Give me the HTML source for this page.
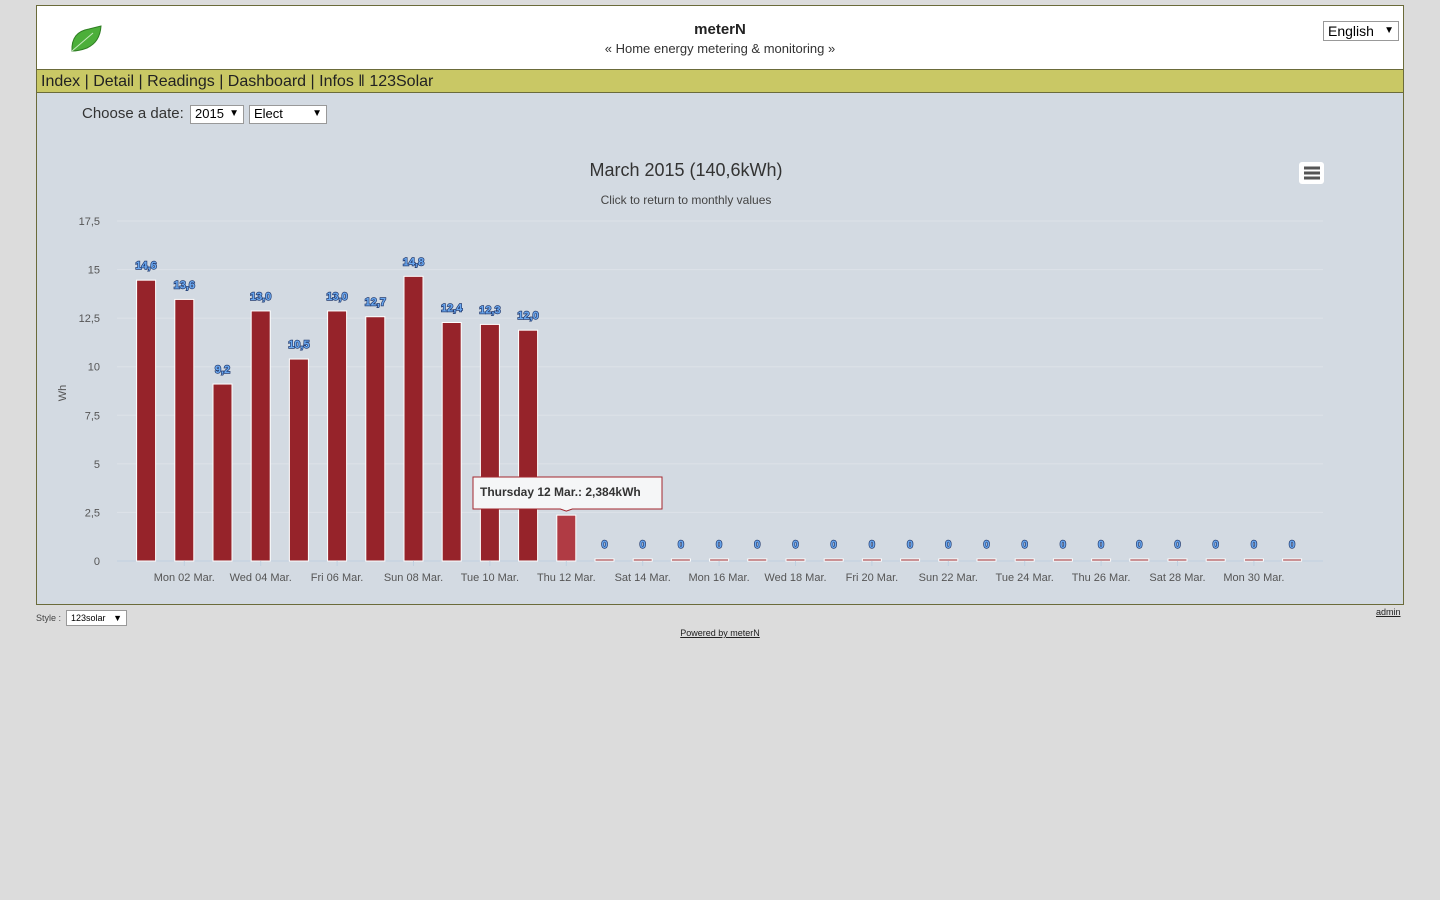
<!DOCTYPE html>
<html><head><meta charset="utf-8">
<style>
body{margin:0;width:1440px;height:900px;background:#dcdcdc;font-family:"Liberation Sans",sans-serif;position:relative;overflow:hidden}
.abs{position:absolute}
#wrap{left:36px;top:5px;width:1366px;height:598px;border:1px solid #6b6b3a;background:#d3dae2}
#header{left:0;top:0;width:1366px;height:63px;background:#fff;border-bottom:1px solid #6b6b3a}
#nav{left:0;top:64px;width:1366px;height:22px;background:#c9c865;border-bottom:1px solid #6b6b3a;font-size:16px;line-height:24px;color:#222}
.sel{background:#fff;border:1px solid #999;font-size:13px;line-height:16px;padding:0 4px;box-sizing:border-box}
</style></head><body>
<div id="wrap" class="abs">
 <div id="header" class="abs">
  <svg class="abs" style="left:32px;top:18px" width="34" height="30"><path d="M3 27 Q2 8 20 5 L32 2 Q31 18 18 24 Q10 27 3 27Z" fill="#4caf3a" stroke="#2e7d22"/><path d="M3 27 L24 9" stroke="#c8eac0" stroke-width="1"/></svg>
  <div class="abs" style="left:0;width:1366px;top:15px;text-align:center;font-size:15px;font-weight:bold;color:#222">meterN</div>
  <div class="abs" style="left:0;width:1366px;top:35px;text-align:center;font-size:13px;color:#333">« Home energy metering &amp; monitoring »</div>
  <div class="abs sel" style="left:1286px;top:15px;width:76px;height:20px;font-size:14px;line-height:18px">English<span style="float:right;font-size:10px">▼</span></div>
 </div>
 <div id="nav" class="abs">
  <span style="margin-left:4px">Index</span> | <span>Detail</span> | <span>Readings</span> | <span>Dashboard</span> | <span>Infos</span> ‖ <span>123Solar</span>
 </div>
 <div class="abs" style="left:45px;top:99px;font-size:15px;color:#333">Choose a date:</div>
 <div class="abs sel" style="left:153px;top:99px;width:54px;height:19px">2015<span style="float:right;font-size:10px">▼</span></div>
 <div class="abs sel" style="left:212px;top:99px;width:78px;height:19px">Elect<span style="float:right;font-size:10px">▼</span></div>
</div>
<svg id="chart" class="abs" style="left:0;top:0" width="1440" height="900"></svg>
<div class="abs" style="left:36px;top:613px;font-size:9px;color:#444">Style :</div>
<div class="abs sel" style="left:66px;top:610px;width:61px;height:16px;font-size:9px;line-height:14px">123solar<span style="float:right;font-size:9px">▼</span></div>
<div class="abs" style="left:1376px;top:607px;font-size:9px;color:#222;text-decoration:underline">admin</div>
<div class="abs" style="left:0;width:1440px;top:628px;text-align:center;font-size:9px;color:#222;text-decoration:underline">Powered by meterN</div>
<script>
const days=[1,2,3,4,5,6,7,8,9,10,11,12,13,14,15,16,17,18,19,20,21,22,23,24,25,26,27,28,29,30,31];
const weekdays=["Sun","Mon","Tue","Wed","Thu","Fri","Sat"];
const values=[14.6,13.6,9.2,13.0,10.5,13.0,12.7,14.8,12.4,12.3,12.0,2.384,0,0,0,0,0,0,0,0,0,0,0,0,0,0,0,0,0,0,0];
const yTicks=[0,2.5,5,7.5,10,12.5,15,17.5];
const hoverIndex=11;
const NS="http://www.w3.org/2000/svg";
const svg=document.getElementById('chart');
const y0=561,ymax=17.5,ph=340,L=127,cw=38.2,bw=19;
const y=v=>y0-v/ymax*ph;
const yb=v=>y0-v/ymax*ph*0.99;
const xc=i=>L+(i+0.5)*cw;
function mk(t,a,txt){const e=document.createElementNS(NS,t);for(const k in a)e.setAttribute(k,a[k]);if(txt!==undefined)e.textContent=txt;svg.appendChild(e);return e;}
const fmt=v=>v.toFixed(1).replace('.',',');
const fmtTick=v=>String(v).replace('.',',');
yTicks.forEach(t=>{
 const g=mk('line',{x1:117,x2:1323,y1:y(t),y2:y(t),stroke:t===0?'#c0d0e0':'#dde2e8'});
 
 
 const l=mk('text',{x:100,y:y(t)+4,'text-anchor':'end','font-size':11,fill:'#555','font-family':'Liberation Sans'},fmtTick(t));
 
 
});
const yt=mk('text',{x:66,y:393,'text-anchor':'middle','font-size':11,fill:'#555',transform:'rotate(-90 66 393)'},'Wh');


const tt=mk('text',{x:686,y:176,'text-anchor':'middle','font-size':18,fill:'#333'},'March 2015 (140,6kWh)');


const st=mk('text',{x:686,y:204,'text-anchor':'middle','font-size':12,fill:'#444'},'Click to return to monthly values');


values.forEach((v,i)=>{
 let h=Math.max(y0-yb(v),2);
 const b=mk('rect',{x:xc(i)-bw/2,y:y0-h,width:bw,height:h,fill:i===hoverIndex?'#b03b44':'#96232a',stroke:'#fff','stroke-width':1});
 
 
 if(i!==hoverIndex){
  const lb=mk('text',{x:xc(i),y:y0-h-11,'text-anchor':'middle','font-size':11,'font-weight':'bold',fill:'#6aa8f0',stroke:'#243c70','stroke-width':1.4,'paint-order':'stroke'},v===0?'0':fmt(v));
  
  
 }
 if(i%2===1){
  const d=new Date(2015,2,days[i]);
  const tk=mk('line',{x1:xc(i),x2:xc(i),y1:y0,y2:y0+5,stroke:'#c0d0e0'});
  
  
  const xl=mk('text',{x:xc(i),y:y0+20,'text-anchor':'middle','font-size':11,fill:'#555'},weekdays[d.getDay()]+' '+String(days[i]).padStart(2,'0')+' Mar.');
  
  
 }
});
const hx=xc(hoverIndex),hy=yb(values[hoverIndex]);
const tip=mk('path',{d:`M473 477 H662 V509 H${hx+6} L${hx} ${hy-4} L${hx-6} 509 H473 Z`,fill:'#f5f6f7',stroke:'#a3272e','stroke-width':1});


const tipT=mk('text',{x:480,y:496,'font-size':12,'font-weight':'bold',fill:'#333'},'Thursday 12 Mar.: 2,384kWh');


const mb=mk('rect',{x:1299,y:162,width:25,height:22,rx:3,fill:'#fff'});


[168,173,178].forEach(yy=>{const l=mk('line',{x1:1304,x2:1320,y1:yy,y2:yy,stroke:'#555','stroke-width':3});});
</script>
</body></html>
